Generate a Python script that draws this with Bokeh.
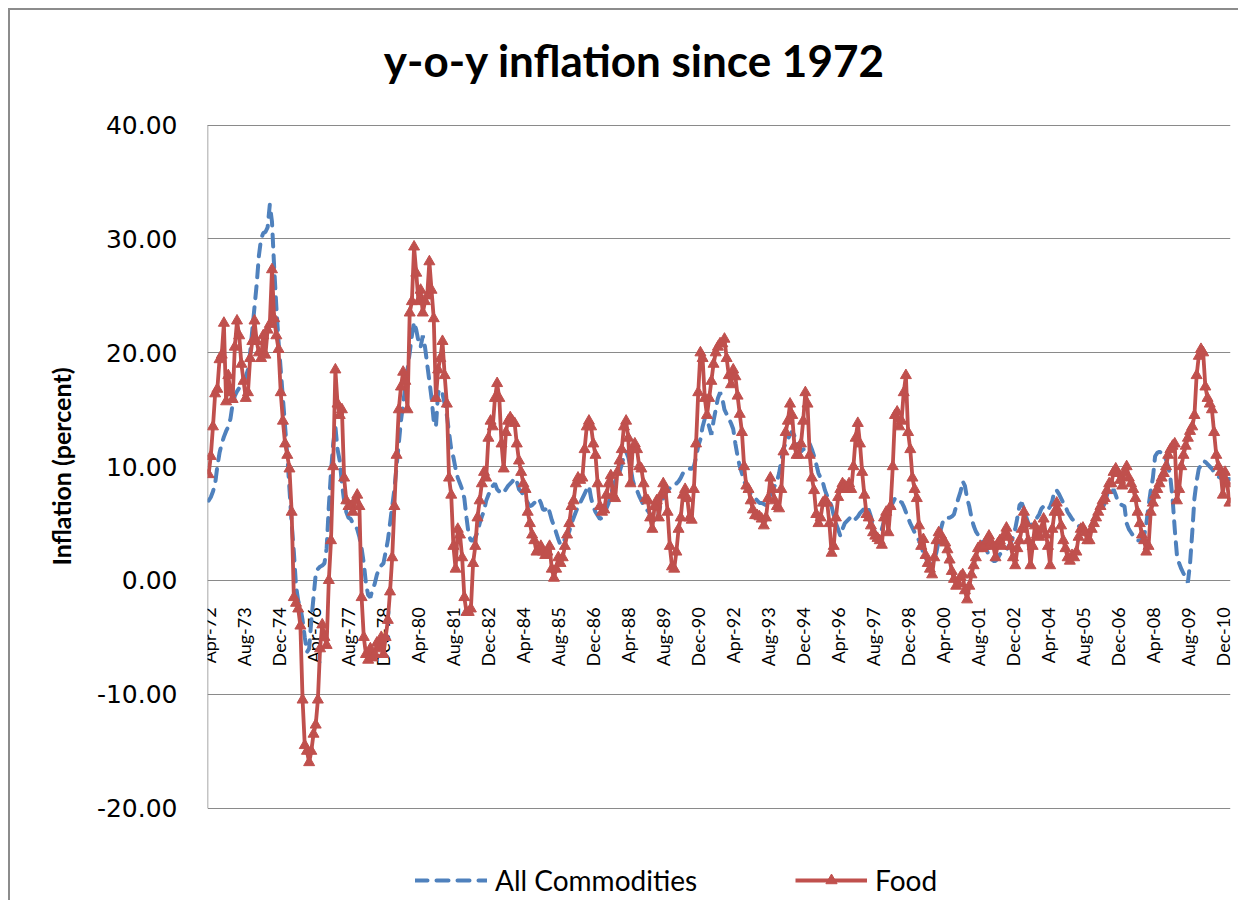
import pandas as pd
from bokeh.plotting import figure
from bokeh.models import (ColumnDataSource, Range1d, FixedTicker, Legend, LegendItem,
                          Label, NumeralTickFormatter)
from bokeh.core.properties import value
from bokeh.embed import file_html
from bokeh.resources import INLINE

TITLE = "y-o-y inflation since 1972"
Y_LABEL = "Inflation (percent)"
SERIES_NAMES = ["All Commodities", "Food"]

tick_labels = ["Apr-72", "Aug-73", "Dec-74", "Apr-76", "Aug-77", "Dec-78", "Apr-80",
               "Aug-81", "Dec-82", "Apr-84", "Aug-85", "Dec-86", "Apr-88", "Aug-89",
               "Dec-90", "Apr-92", "Aug-93", "Dec-94", "Apr-96", "Aug-97", "Dec-98",
               "Apr-00", "Aug-01", "Dec-02", "Apr-04", "Aug-05", "Dec-06", "Apr-08",
               "Aug-09", "Dec-10"]

y_ticks = [-20, -10, 0, 10, 20, 30, 40]
Y_MIN, Y_MAX = -20, 40

# monthly y-o-y inflation, Apr-72 .. Mar-11 (one row per April-March year)
all_commodities = [
    7.0, 7.3, 7.8, 8.5, 10.0, 11.2, 12.0, 12.6, 13.1, 13.5, 14.2, 15.5,
    16.2, 16.6, 16.9, 17.2, 17.5, 17.9, 18.5, 20.0, 22.0, 24.0, 26.0, 28.5,
    30.0, 30.5, 30.6, 31.0, 33.0, 31.5, 27.5, 24.0, 21.0, 18.5, 16.0, 13.5,
    11.0, 8.0, 5.0, 2.5, -0.5, -1.8, -2.4, -3.5, -5.0, -6.3, -6.0, -3.5,
    -1.5, 0.5, 1.0, 1.2, 1.3, 1.5, 2.8, 6.5, 9.5, 12.0, 13.5, 11.5,
    10.5, 8.5, 7.0, 6.0, 5.5, 5.4, 5.0, 4.8, 4.5, 3.8, 2.8, 1.5,
    -0.3, -1.3, -1.5, -0.8, -0.3, 0.5, 1.0, 1.3, 1.5, 2.5, 3.5, 5.0,
    6.5, 8.0, 10.0, 12.0, 14.0, 15.5, 17.0, 18.5, 20.0, 21.5, 22.7, 22.0,
    21.0, 20.5, 21.5, 20.5, 19.0, 17.5, 16.0, 14.0, 13.5, 16.5, 16.8, 16.4,
    15.5, 14.5, 13.0, 11.5, 10.8, 9.8, 9.0, 8.5, 8.0, 7.2, 5.5, 4.0,
    3.5, 3.5, 3.8, 4.2, 5.0, 5.6, 6.1, 7.0, 7.5, 7.9, 8.3, 8.5,
    8.0, 7.8, 7.6, 7.7, 8.0, 8.3, 8.5, 8.7, 9.0, 8.7, 8.0, 7.8,
    7.5, 7.2, 6.8, 6.5, 6.6, 6.8, 7.0, 7.2, 6.8, 6.2, 6.2, 6.5,
    6.0, 5.3, 4.8, 4.2, 3.6, 3.1, 3.3, 3.6, 3.9, 4.3, 5.0, 5.5,
    6.0, 6.5, 6.8, 7.2, 7.6, 8.0, 8.3, 7.2, 6.5, 6.0, 5.7, 5.4,
    5.5, 5.8, 6.3, 6.8, 7.5, 8.2, 8.7, 9.0, 9.5, 10.2, 10.9, 11.3,
    10.8, 10.0, 8.8, 8.2, 7.9, 7.4, 7.0, 6.6, 6.3, 6.1, 5.8, 5.5,
    5.2, 5.0, 6.0, 6.8, 7.2, 7.6, 7.9, 8.1, 8.3, 8.3, 8.5, 8.7,
    9.0, 9.4, 9.6, 9.8, 9.8, 9.8, 10.0, 10.8, 11.8, 12.4, 13.5, 14.2,
    14.2, 13.5, 12.8, 14.0, 15.0, 16.0, 16.5, 16.0, 15.0, 14.6, 14.2, 13.8,
    13.3, 12.0, 10.9, 10.0, 9.4, 8.7, 8.3, 8.0, 7.6, 7.3, 7.2, 7.0,
    6.8, 6.8, 6.7, 6.6, 6.8, 7.6, 8.0, 8.3, 8.7, 9.4, 10.5, 11.6,
    12.0, 12.4, 12.8, 13.1, 12.7, 12.2, 11.8, 11.3, 11.5, 11.6, 11.8, 12.0,
    11.5, 10.9, 10.2, 9.4, 9.0, 8.6, 7.9, 7.4, 7.0, 6.5, 5.7, 5.0,
    4.5, 3.9, 4.5, 5.0, 5.2, 5.4, 5.6, 5.3, 5.4, 5.6, 5.9, 6.1,
    6.3, 6.5, 6.2, 5.6, 4.8, 4.0, 3.6, 3.8, 4.5, 5.2, 5.7, 6.0,
    6.5, 6.8, 7.2, 7.0, 6.8, 6.9, 6.5, 6.0, 5.5, 5.0, 4.6, 4.2,
    3.9, 3.5, 3.0, 2.4, 2.0, 1.6, 1.3, 1.3, 1.8, 2.5, 3.5, 4.5,
    5.2, 5.5, 5.5, 5.5, 5.6, 5.8, 6.5, 7.2, 7.8, 8.7, 8.3, 7.2,
    6.5, 5.5, 4.8, 4.3, 4.0, 3.8, 3.5, 3.0, 2.6, 2.2, 2.0, 1.7,
    1.7, 1.9, 2.3, 2.4, 2.5, 2.7, 3.0, 3.3, 3.8, 4.5, 5.5, 6.6,
    6.8, 6.3, 5.6, 5.0, 4.8, 5.0, 5.2, 5.5, 5.8, 6.3, 6.5, 6.3,
    6.2, 6.5, 7.0, 7.9, 7.9, 7.6, 7.2, 6.8, 6.5, 6.0, 5.7, 5.4,
    5.2, 5.0, 4.8, 4.6, 4.5, 4.3, 4.2, 4.4, 4.8, 5.4, 5.7, 5.9,
    6.1, 6.4, 6.8, 7.5, 7.8, 7.6, 8.0, 7.5, 6.9, 6.7, 6.6, 6.5,
    5.0, 4.5, 4.2, 3.9, 3.6, 3.5, 3.5, 3.6, 3.9, 5.0, 6.5, 7.9,
    9.0, 10.9, 11.2, 11.3, 11.2, 10.9, 10.6, 10.0, 9.0, 7.2, 4.5, 2.2,
    1.5, 1.0, 0.6, 0.3, -0.2, 1.5, 4.2, 7.2, 8.7, 9.8, 10.1, 10.5,
    10.4, 10.2, 10.0, 9.8, 9.5, 9.3, 9.1, 9.0, 9.0, 9.0, 8.9, 8.9,
]

food = [
    9.3, 10.9, 13.5, 16.4, 16.8, 19.4, 19.8, 22.6, 15.7, 18.0, 16.5, 15.9,
    20.5, 22.8, 21.5, 19.0, 17.5, 16.0, 16.5, 19.5, 21.0, 22.8, 21.0, 20.0,
    19.5, 21.5, 19.8, 22.0, 22.5, 27.3, 23.0, 21.5, 20.3, 16.5, 14.0, 12.0,
    11.0, 9.8, 6.0, -1.5, -2.0, -2.5, -4.0, -10.5, -14.5, -15.0, -16.0, -15.0,
    -13.5, -12.7, -10.5, -6.0, -3.9, -5.0, -5.7, 0.0, 3.5, 10.0, 18.5, 15.5,
    14.5, 15.0, 9.0, 7.0, 6.5, 6.5, 6.0, 7.0, 7.5, 6.5, -1.5, -5.0,
    -6.5, -7.0, -6.0, -6.8, -6.5, -5.5, -6.0, -5.0, -6.5, -5.0, -3.5, -1.0,
    2.0, 6.5, 11.0, 15.0, 17.0, 18.3, 17.5, 15.0, 23.5, 24.5, 29.3, 27.0,
    24.5, 25.5, 23.5, 24.5, 25.0, 28.0, 25.5, 23.0, 16.0, 18.5, 19.5, 21.0,
    18.0, 15.5, 9.0, 7.5, 3.0, 1.0, 4.5, 4.0, 2.0, -1.5, -2.8, -2.8,
    -2.5, 1.5, 3.0, 5.5, 7.0, 8.5, 9.5, 9.0, 12.5, 14.0, 13.5, 16.0,
    17.3, 16.0, 12.0, 9.8, 13.0, 14.0, 14.3, 14.0, 13.8, 12.0, 10.5, 9.5,
    8.5, 8.0, 6.0, 5.0, 4.0, 3.5, 2.5, 2.8, 3.0, 2.5, 2.2, 2.5,
    3.0, 1.0, 0.2, 1.0, 2.0, 1.5, 2.0, 3.0, 4.0, 5.0, 6.5, 7.0,
    8.5, 9.0, 8.8, 9.0, 11.5, 13.5, 14.0, 13.5, 12.0, 11.0, 8.5, 6.5,
    6.0, 6.2, 7.5, 8.5, 9.2, 7.5, 7.2, 9.5, 10.5, 11.5, 13.5, 14.0,
    12.5, 8.5, 11.5, 12.0, 11.5, 10.0, 9.8, 8.5, 7.2, 7.0, 5.5, 4.5,
    6.5, 7.0, 5.5, 7.5, 8.5, 8.0, 6.0, 3.0, 1.2, 1.0, 2.5, 4.5,
    5.5, 7.5, 8.0, 7.2, 5.5, 5.3, 8.0, 12.0, 16.5, 20.0, 19.5, 16.0,
    14.5, 16.0, 17.5, 19.0, 20.0, 20.5, 20.8, 20.8, 21.2, 19.5, 18.0, 17.2,
    18.5, 17.9, 16.2, 14.6, 13.0, 10.0, 8.3, 8.0, 7.0, 6.2, 5.7, 5.7,
    5.6, 5.4, 4.8, 5.5, 7.2, 9.0, 8.0, 7.0, 6.5, 6.3, 8.0, 11.3,
    13.0, 14.0, 15.5, 14.5, 11.8, 11.0, 11.0, 12.0, 14.0, 16.5, 15.5, 11.0,
    9.0, 7.9, 5.8, 5.0, 5.5, 6.8, 7.0, 6.8, 5.0, 2.4, 3.0, 5.5,
    7.3, 8.0, 8.5, 8.3, 8.0, 8.5, 8.0, 10.0, 12.5, 13.8, 12.0, 9.5,
    7.5, 5.8, 5.5, 4.8, 4.2, 3.9, 3.7, 3.5, 3.1, 5.5, 6.0, 4.2,
    6.5, 10.0, 14.5, 14.8, 13.5, 14.0, 16.5, 18.0, 13.0, 11.5, 9.0, 8.0,
    7.2, 4.8, 3.0, 3.6, 2.2, 1.5, 1.0, 0.5, 2.0, 3.5, 4.2, 4.0,
    3.5, 3.3, 2.7, 1.8, 0.8, 0.1, -0.5, -0.3, 0.3, 0.5, -0.9, -1.7,
    -0.5, 0.5, 1.3, 2.0, 2.8, 3.0, 2.8, 3.0, 3.5, 3.9, 3.3, 3.0,
    2.0, 3.2, 3.5, 3.0, 4.0, 4.6, 3.8, 3.0, 2.0, 1.3, 2.8, 3.5,
    4.5, 6.0, 5.0, 3.5, 1.3, 3.0, 4.8, 4.0, 3.8, 4.5, 5.4, 4.0,
    3.0, 1.3, 4.5, 6.0, 6.8, 6.0, 4.8, 3.5, 2.8, 2.0, 1.7, 2.2,
    2.0, 2.5, 3.8, 4.5, 4.6, 4.2, 3.5, 3.5, 4.5, 5.0, 5.5, 6.0,
    6.5, 7.0, 7.2, 7.9, 8.5, 8.5, 9.5, 9.8, 9.4, 8.8, 8.3, 9.5,
    10.0, 9.0, 8.5, 8.0, 7.2, 6.0, 5.0, 4.0, 3.5, 2.5, 3.0, 6.0,
    6.8, 7.5, 8.0, 8.5, 9.0, 9.4, 10.0, 11.0, 11.5, 11.8, 12.0, 7.0,
    8.0, 10.0, 11.0, 11.8, 12.5, 13.1, 13.5, 14.5, 18.0, 19.7, 20.3, 20.0,
    17.0, 16.0, 15.5, 15.0, 13.0, 11.0, 10.0, 9.5, 7.5, 9.5, 8.5, 6.8,
]

months = list(pd.date_range("1972-04-01", periods=len(food), freq="MS").strftime("%b-%y"))
x_idx = list(range(len(months)))
tick_pos = [months.index(t) for t in tick_labels]

src = ColumnDataSource(dict(x=x_idx, month=months, allc=all_commodities, food=food))
lab_src = ColumnDataSource(dict(x=tick_pos, y=[0] * len(tick_pos), text=tick_labels))

BLUE = "#4F81BD"
RED = "#C0504D"
GRID = "#8A8A8A"

# The frame is stretched beyond the -20..40 plot area so that the title and the
# legend (which Excel draws outside the plot area) can live inside it unclipped.
# Plot area: 683 px for 60 units (-20..40); frame: 864 px tall, centred on it.
PX_PER_UNIT = 683 / 60.0
pad_top = 90.5 / PX_PER_UNIT
pad_bot = 90.5 / PX_PER_UNIT
X_LO, X_HI = -0.5, len(months) - 0.5

p = figure(width=1230, height=892, output_backend="svg", toolbar_location=None,
           x_range=Range1d(X_LO, X_HI),
           y_range=Range1d(Y_MIN - pad_bot, Y_MAX + pad_top),
           x_axis_location=None,
           min_border_left=197, min_border_right=10, min_border_top=24,
           min_border_bottom=4,
           styles={"margin-left": "8px", "margin-top": "8px",
                   "border-left": "2px solid #8C8C8C", "border-top": "2px solid #8C8C8C"})

p.outline_line_color = None
p.background_fill_color = "white"
p.border_fill_color = "white"

p.xgrid.visible = False
p.ygrid.ticker = FixedTicker(ticks=y_ticks)
p.ygrid.grid_line_color = GRID
p.ygrid.grid_line_width = 1

p.yaxis.ticker = FixedTicker(ticks=y_ticks)
p.yaxis.formatter = NumeralTickFormatter(format="0.00")
p.yaxis.axis_line_color = None
p.yaxis.major_tick_out = 0
p.yaxis.major_tick_in = 0
p.yaxis.minor_tick_line_color = None
p.yaxis.major_label_standoff = 30
p.yaxis.major_label_text_font = "DejaVu Sans"
p.yaxis.major_label_text_font_size = "25px"
p.yaxis.major_label_text_color = "#000000"
p.yaxis.axis_label = Y_LABEL
p.yaxis.axis_label_text_font = "Lato"
p.yaxis.axis_label_text_font_style = "bold"
p.yaxis.axis_label_text_font_size = "25px"
p.yaxis.axis_label_text_color = "#000000"
p.yaxis.axis_label_standoff = 18

# vertical value-axis line, only over the plot area
p.segment(x0=[X_LO], y0=[Y_MIN], x1=[X_LO], y1=[Y_MAX], line_color=GRID, line_width=1.5)

# category labels sitting on the zero line (Excel axis crossing at 0)
p.text(x="x", y="y", text="text", source=lab_src, angle=1.5707963267948966,
       text_align="right", text_baseline="middle", y_offset=27,
       text_font=value("Lato"), text_font_size=value("18px"), text_color="#000000")

r_all = p.line("x", "allc", source=src, line_color=BLUE, line_width=4,
               line_dash="12 9", line_cap="round")
r_food = p.line("x", "food", source=src, line_color=RED, line_width=3.8,
                line_join="round")
r_tri = p.scatter("x", "food", source=src, marker="triangle", size=11,
                  fill_color=RED, line_color=RED)

# chart title, centred over the chart area (not the plot area)
p.add_layout(Label(x=194.8, y=45.75, text=TITLE, text_align="center",
                   text_baseline="middle", text_font="Lato", text_font_style="bold",
                   text_font_size="44px", text_color="#000000"))

legend = Legend(items=[LegendItem(label=SERIES_NAMES[0], renderers=[r_all]),
                       LegendItem(label=SERIES_NAMES[1], renderers=[r_food, r_tri])],
                orientation="horizontal", location=(208, 1),
                glyph_width=72, glyph_height=28, label_height=28, label_standoff=8,
                spacing=98, padding=0, margin=0, border_line_color=None,
                background_fill_alpha=0, label_text_font="Lato",
                label_text_font_size="28px", label_text_color="#000000")
p.add_layout(legend, "center")

open("out.html", "w").write(file_html(p, INLINE))
